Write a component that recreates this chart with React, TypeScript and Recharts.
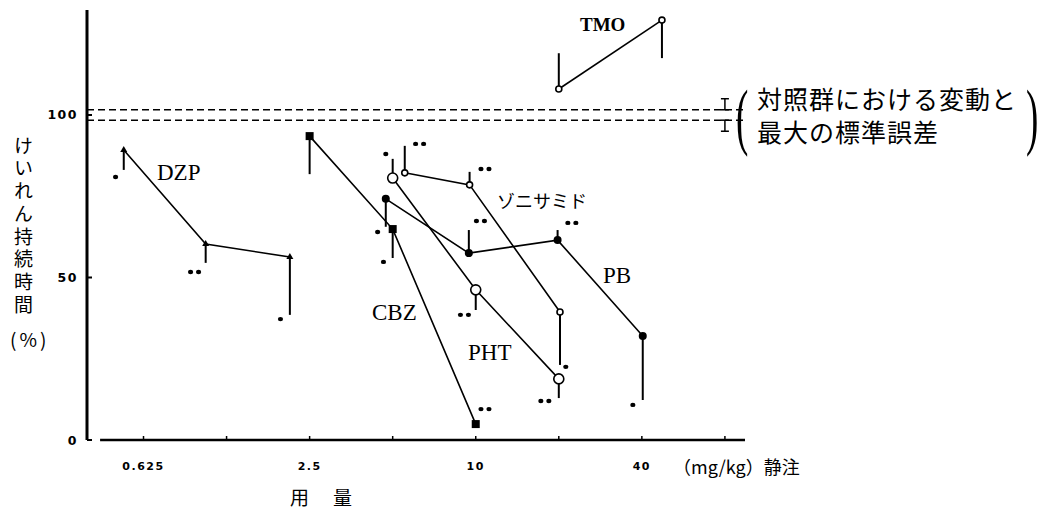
import React from "react";
import {
  ComposedChart,
  Line,
  Scatter,
  XAxis,
  YAxis,
  ErrorBar,
  ReferenceLine,
} from "recharts";

// 用量 (mg/kg, log scale) and tick labels
const doseTicks = [0.625, 1.25, 2.5, 5, 10, 20, 40, 80];
const doseTickLabels = ["0.625", "", "2.5", "", "10", "", "40", ""];
const percentTicks = [0, 50, 100];
const doseDomain = [0.39, 94.6];
const percentDomain = [0, 132.3];
const xAxisStart = 0.435;

// けいれん持続時間 (%) per drug; errors are [below, above]
const dzpDose = [0.53, 1.05, 2.12];
const dzpValue = [89.2, 60.3, 56.3];
const dzpErrLow = [6.1, 5.8, 17.8];
const dzpErrHigh = [0, 0, 0];

const cbzDose = [2.5, 5, 10];
const cbzValue = [93.5, 64.9, 4.9];
const cbzErrLow = [11.7, 8.9, 0];
const cbzErrHigh = [0, 0, 0];

const pbDose = [4.72, 9.44, 19.8, 40.3];
const pbValue = [74.2, 57.5, 61.5, 32.0];
const pbErrLow = [8.6, 0, 0, 19.7];
const pbErrHigh = [0, 7.1, 3.1, 0];

const phtDose = [5, 10, 20];
const phtValue = [80.6, 46.2, 18.8];
const phtErrLow = [0, 6.2, 5.9];
const phtErrHigh = [5.9, 0, 0];

const znsDose = [5.53, 9.5, 20.2];
const znsValue = [82.2, 78.5, 39.4];
const znsErrLow = [0, 0, 16.3];
const znsErrHigh = [8.3, 4.0, 0];

const tmoDose = [20, 47.3];
const tmoValue = [108.0, 129.2];
const tmoErrLow = [0, 11.7];
const tmoErrHigh = [11.0, 0];

// significance marks (• / ••)
const sigDose = [0.495, 0.957, 1.96, 4.63, 10.8, 4.41, 10.4, 22.3, 37.1, 4.72, 9.1, 17.8, 6.26, 10.8, 21.2];
const sigValue = [80.9, 51.7, 37.2, 54.8, 9.5, 64.0, 67.4, 66.8, 10.8, 88.0, 38.5, 12.0, 91.1, 83.4, 22.5];
const sigCount = [1, 2, 1, 1, 2, 1, 2, 2, 1, 1, 2, 2, 2, 2, 1];

// 対照群における変動と最大の標準誤差
const controlUpper = 101.6;
const controlLower = 98.4;
const controlSeDose = 80;
const controlSe = 3.4;

const toPoints = (dose: number[], value: number[], low: number[], high: number[]) =>
  dose.map((d, i) => ({ x: d, y: value[i], err: [low[i], high[i]] }));

const dzp = toPoints(dzpDose, dzpValue, dzpErrLow, dzpErrHigh);
const cbz = toPoints(cbzDose, cbzValue, cbzErrLow, cbzErrHigh);
const pb = toPoints(pbDose, pbValue, pbErrLow, pbErrHigh);
const pht = toPoints(phtDose, phtValue, phtErrLow, phtErrHigh);
const zns = toPoints(znsDose, znsValue, znsErrLow, znsErrHigh);
const tmo = toPoints(tmoDose, tmoValue, tmoErrLow, tmoErrHigh);
const sig = sigDose.map((d, i) => ({ x: d, y: sigValue[i], n: sigCount[i] }));
const control = [
  { x: controlSeDose, y: controlUpper, err: [0, controlSe] },
  { x: controlSeDose, y: controlLower, err: [controlSe, 0] },
];

const makeDot = (kind: string) => (props: any) => {
  const { cx, cy, index } = props;
  if (cx == null || cy == null) return <g key={index} />;
  if (kind === "square")
    return <rect key={index} x={cx - 4} y={cy - 4} width={8} height={8} fill="#000" />;
  if (kind === "arrow")
    return (
      <path
        key={index}
        d={`M${cx},${cy - 4} L${cx + 3.5},${cy + 2} L${cx - 3.5},${cy + 2} Z`}
        fill="#000"
      />
    );
  if (kind === "filled") return <circle key={index} cx={cx} cy={cy} r={4} fill="#000" />;
  if (kind === "open")
    return <circle key={index} cx={cx} cy={cy} r={5} fill="#fff" stroke="#000" strokeWidth={1.6} />;
  return <circle key={index} cx={cx} cy={cy} r={3} fill="#fff" stroke="#000" strokeWidth={1.6} />;
};

const SigShape = (props: any) => {
  const { cx, cy, payload } = props;
  if (payload.n === 1) return <ellipse cx={cx} cy={cy} rx={2.6} ry={2.2} fill="#000" />;
  return (
    <g>
      <ellipse cx={cx - 4} cy={cy} rx={2.6} ry={2.2} fill="#000" />
      <ellipse cx={cx + 4} cy={cy} rx={2.6} ry={2.2} fill="#000" />
    </g>
  );
};

const NoShape = () => <g />;

const XTick = ({ x, y, payload }: any) => (
  <g>
    <line x1={x} x2={x} y1={y} y2={y - 4} stroke="#000" strokeWidth={1.5} />
    <text
      x={x}
      y={y + 30}
      textAnchor="middle"
      fontFamily="DejaVu Sans"
      fontWeight="bold"
      fontSize={11}
      letterSpacing={1.5}
      fill="#000"
    >
      {doseTickLabels[doseTicks.indexOf(payload.value)]}
    </text>
  </g>
);

const YTick = ({ x, y, payload }: any) => (
  <g>
    <line x1={x} x2={x + 5} y1={y} y2={y} stroke="#000" strokeWidth={2} />
    <text
      x={x - 9}
      y={y + 4.5}
      textAnchor="end"
      fontFamily="DejaVu Sans"
      fontWeight="bold"
      fontSize={12.5}
      letterSpacing={1.5}
      fill="#000"
    >
      {payload.value}
    </text>
  </g>
);

const serif = "'Liberation Serif', 'DejaVu Serif', serif";
const cjk = "'Noto Sans CJK JP', sans-serif";

const Label = ({ left, cy, size, font, bold, spacing, children }: any) => (
  <div
    style={{
      position: "absolute",
      left,
      top: cy - size / 2,
      height: size,
      fontSize: size,
      fontFamily: font,
      fontWeight: bold ? "bold" : "normal",
      letterSpacing: spacing ?? 0,
      lineHeight: `${size}px`,
      whiteSpace: "nowrap",
      color: "#000",
    }}
  >
    {children}
  </div>
);

const lineProps = {
  type: "linear" as const,
  dataKey: "y",
  stroke: "#000",
  strokeWidth: 1.6,
  activeDot: false,
  isAnimationActive: false,
  legendType: "none" as const,
};

export default function App() {
  return (
    <div style={{ position: "absolute", left: 0, top: 0, width: 1046, height: 508, background: "#fff" }}>
      <ComposedChart
        width={1046}
        height={508}
        margin={{ top: 10, right: 301, bottom: 28, left: 47 }}
      >
        <XAxis
          dataKey="x"
          type="number"
          scale="log"
          domain={doseDomain}
          allowDataOverflow
          ticks={doseTicks}
          interval={0}
          tick={<XTick />}
          tickSize={0}
          tickMargin={0}
          tickLine={false}
          axisLine={false}
          height={40}
        />
        <YAxis
          type="number"
          domain={percentDomain}
          allowDataOverflow
          ticks={percentTicks}
          interval={0}
          tick={<YTick />}
          tickSize={0}
          tickMargin={0}
          tickLine={false}
          axisLine={{ stroke: "#000", strokeWidth: 3 }}
          width={40}
        />
        <ReferenceLine
          segment={[
            { x: xAxisStart, y: 0 },
            { x: doseDomain[1], y: 0 },
          ]}
          stroke="#000"
          strokeWidth={2.5}
        />
        <ReferenceLine y={controlUpper} stroke="#000" strokeWidth={1.5} strokeDasharray="7 4" />
        <ReferenceLine y={controlLower} stroke="#000" strokeWidth={1.5} strokeDasharray="7 4" />
        <Scatter data={control} dataKey="y" shape={NoShape} isAnimationActive={false} legendType="none">
          <ErrorBar dataKey="err" direction="y" width={4} stroke="#000" strokeWidth={1.5} />
        </Scatter>

        <Line {...lineProps} data={dzp} dot={makeDot("arrow")}>
          <ErrorBar dataKey="err" width={0} stroke="#000" strokeWidth={2} />
        </Line>
        <Line {...lineProps} data={cbz} dot={makeDot("square")}>
          <ErrorBar dataKey="err" width={0} stroke="#000" strokeWidth={2} />
        </Line>
        <Line {...lineProps} data={pb} dot={makeDot("filled")}>
          <ErrorBar dataKey="err" width={0} stroke="#000" strokeWidth={2} />
        </Line>
        <Line {...lineProps} data={pht} dot={makeDot("open")}>
          <ErrorBar dataKey="err" width={0} stroke="#000" strokeWidth={2} />
        </Line>
        <Line {...lineProps} data={zns} dot={makeDot("small")}>
          <ErrorBar dataKey="err" width={0} stroke="#000" strokeWidth={2} />
        </Line>
        <Line {...lineProps} data={tmo} dot={makeDot("small")}>
          <ErrorBar dataKey="err" width={0} stroke="#000" strokeWidth={2} />
        </Line>

        <Scatter data={sig} dataKey="y" shape={SigShape} isAnimationActive={false} legendType="none" />
      </ComposedChart>

      {/* series names */}
      <Label left={580} cy={24} size={19} font={serif} bold>TMO</Label>
      <Label left={157} cy={172} size={23} font={serif}>DZP</Label>
      <Label left={497} cy={200} size={18} font={cjk}>ゾニサミド</Label>
      <Label left={603} cy={275} size={23} font={serif}>PB</Label>
      <Label left={372} cy={312} size={23} font={serif}>CBZ</Label>
      <Label left={468} cy={352} size={23} font={serif}>PHT</Label>

      {/* control band note */}
      <div
        style={{
          position: "absolute",
          left: 736,
          top: 79,
          height: 74,
          fontSize: 74,
          lineHeight: "74px",
          fontFamily: serif,
          transform: "scaleX(0.5)",
          transformOrigin: "left center",
        }}
      >
        (
      </div>
      <Label left={757} cy={98} size={25} font={cjk} spacing={1}>対照群における変動と</Label>
      <Label left={757} cy={131} size={25} font={cjk} spacing={1}>最大の標準誤差</Label>
      <div
        style={{
          position: "absolute",
          left: 1026,
          top: 79,
          height: 74,
          fontSize: 74,
          lineHeight: "74px",
          fontFamily: serif,
          transform: "scaleX(0.5)",
          transformOrigin: "left center",
        }}
      >
        )
      </div>

      {/* axis titles */}
      <div
        style={{
          position: "absolute",
          left: 13,
          top: 136,
          width: 20,
          writingMode: "vertical-rl",
          fontSize: 19,
          lineHeight: "20px",
          letterSpacing: "3.7px",
          fontFamily: cjk,
          color: "#000",
          whiteSpace: "nowrap",
        }}
      >
        けいれん持続時間
      </div>
      <Label left={10} cy={338} size={19} font={cjk} spacing={3}>(%)</Label>
      <Label left={673} cy={466} size={18} font={cjk}>（mg/kg）静注</Label>
      <Label left={290} cy={496} size={19} font={cjk}>用</Label>
      <Label left={333} cy={496} size={19} font={cjk}>量</Label>
    </div>
  );
}
